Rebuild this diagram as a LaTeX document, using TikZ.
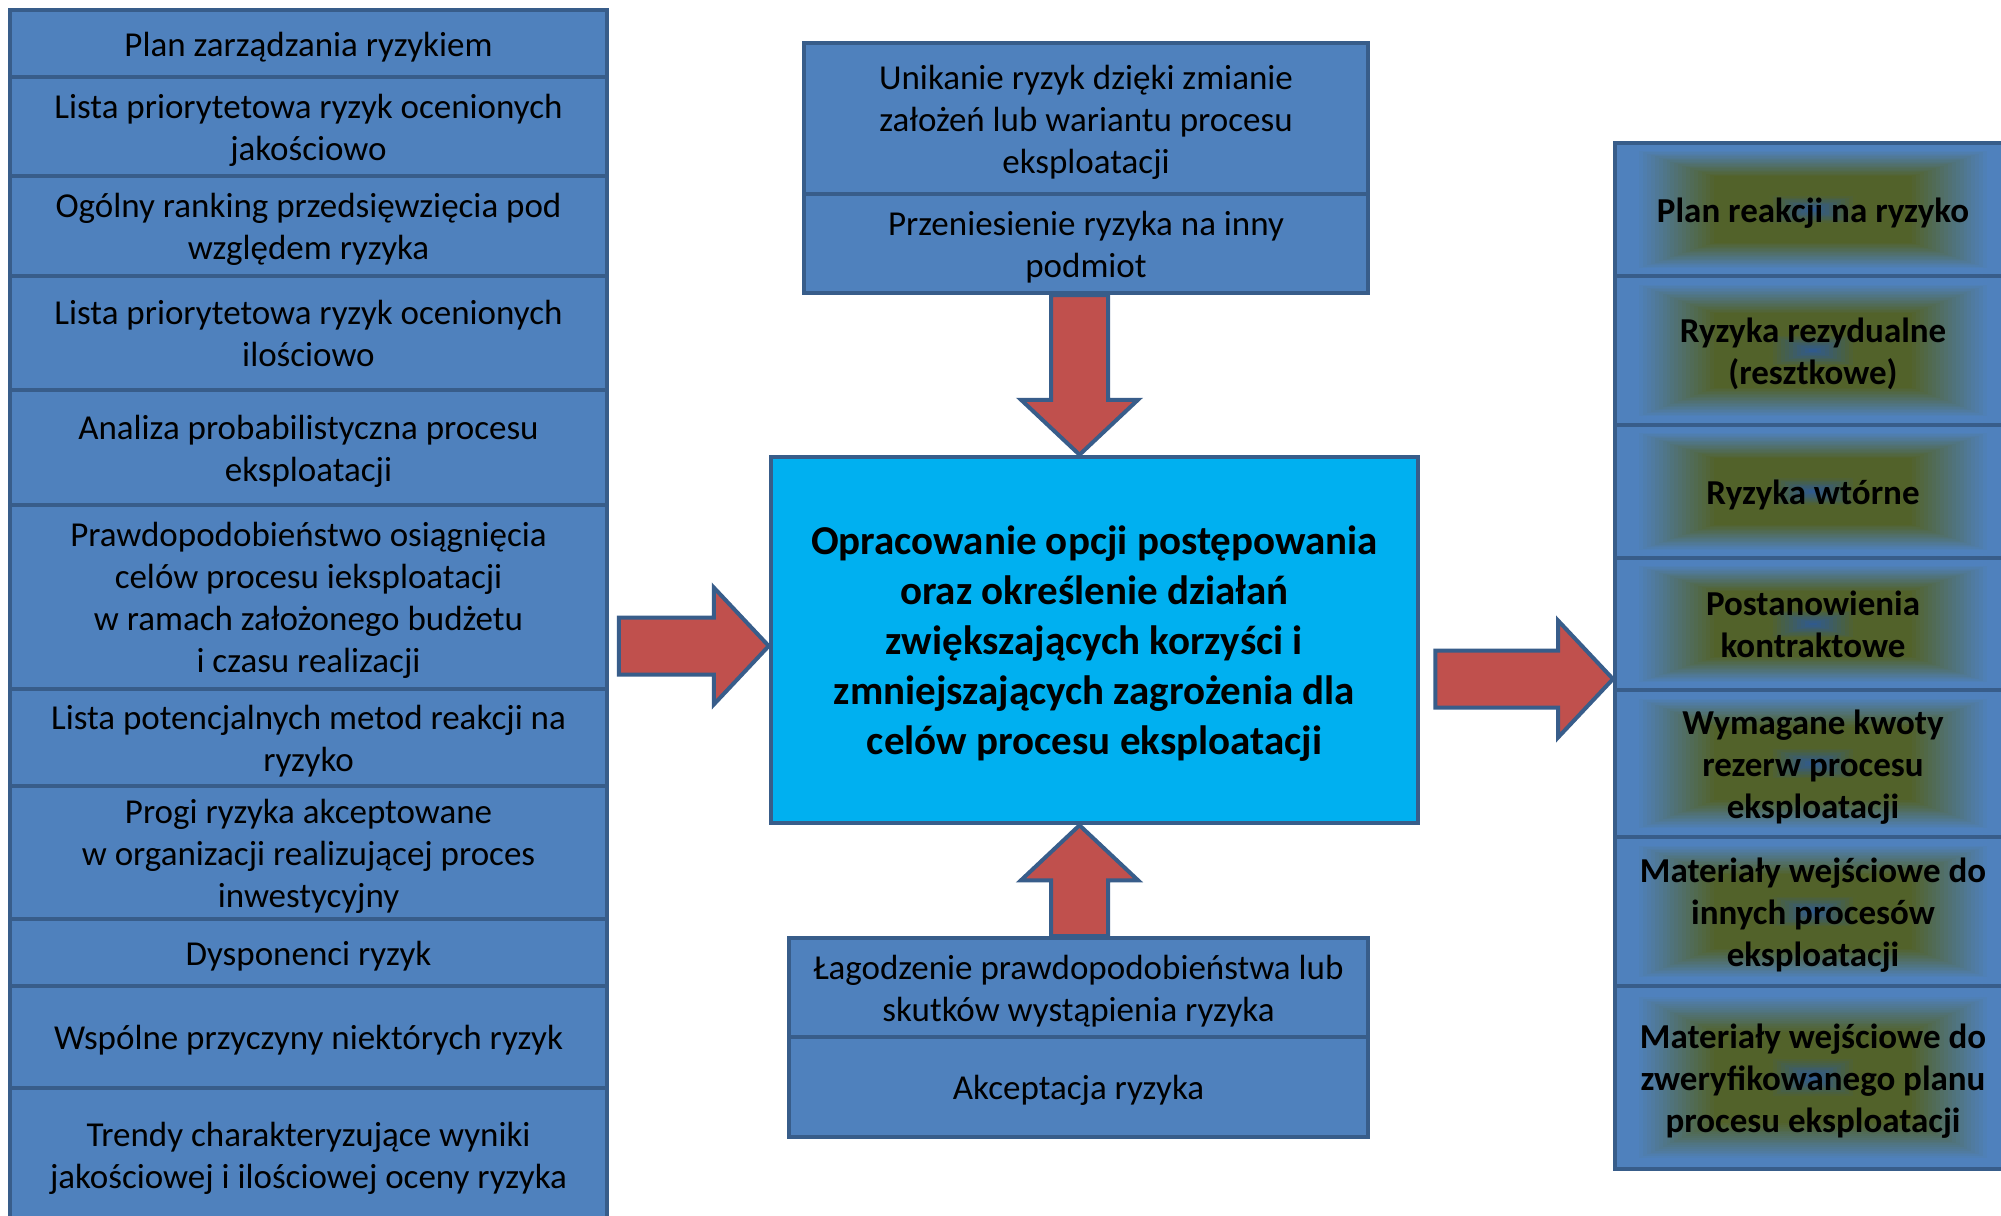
\documentclass[tikz,border=0pt]{standalone}
\usepackage{fontspec}
\setmainfont{Carlito}
\usetikzlibrary{calc}

\definecolor{boxc}{HTML}{4F81BD}
\definecolor{bordc}{HTML}{385D8A}
\definecolor{corec}{HTML}{00B0F0}
\definecolor{arrc}{HTML}{C0504D}
\definecolor{steelc}{HTML}{4F81BD}
\definecolor{olivec}{HTML}{52622A}
\definecolor{darkc}{HTML}{305A8C}

% centred multi-line label; the first-row strut sets the vertical balance
\newcommand\tx[2][38pt]{\begin{tabular}{@{}c@{}}\rule{0pt}{#1}#2\end{tabular}}

\tikzset{
  lbox/.style={draw=bordc, line width=4pt, fill=boxc, inner sep=0pt,
    text=black, font=\fontsize{35}{42}\selectfont},
  corebox/.style={draw=bordc, line width=4.5pt, fill=corec, inner sep=0pt,
    text=black, font=\fontsize{41}{50}\selectfont\bfseries},
  gbox/.style={draw=bordc, line width=4pt, inner sep=0pt, minimum width=396pt,
    text=black, font=\fontsize{35}{42}\selectfont\bfseries,
    path picture={
      \foreach \gi in {0,...,50}{
        \pgfmathsetmacro\gt{1-\gi/50}
        \pgfmathtruncatemacro\gpa{max(0,min(100,(\gt-0.5)/0.4*100))}
        \pgfmathtruncatemacro\gpb{max(0,min(100,(\gt-0.02)/0.2*100))}
        \colorlet{gmix}{olivec!\gpb!darkc}
        \colorlet{gcur}{steelc!\gpa!gmix}
        \fill[gcur]
          ($(path picture bounding box.center)!\gt!(path picture bounding box.south west)$)
          rectangle
          ($(path picture bounding box.center)!\gt!(path picture bounding box.north east)$);
      }
    }},
  harrow/.style={draw=bordc, line width=4pt, fill=arrc, line join=miter},
}

% block arrow from #1 (tail) to #2 (tip)
\newcommand\blockarrow[2]{%
  \path coordinate (bas) at #1;
  \path coordinate (bat) at #2;
  \path coordinate (bab) at ($(bat)!55pt!(bas)$);
  \draw[harrow] ($(bas)!28.5pt!90:(bat)$) -- ($(bab)!28.5pt!90:(bat)$)
    -- ($(bab)!58.5pt!90:(bat)$) -- (bat) -- ($(bab)!58.5pt!-90:(bat)$)
    -- ($(bab)!28.5pt!-90:(bat)$) -- ($(bas)!28.5pt!-90:(bat)$) -- cycle;}

\begin{document}
\begin{tikzpicture}[x=1pt, y=-1pt]
\useasboundingbox (0,0) rectangle (2001,1215);
\clip (0,0) rectangle (2001,1215);
\fill[white] (0,0) rectangle (2001,1215);

% inputs
\begin{scope}[every node/.append style={lbox, minimum width=597pt}]
\node[minimum height=67pt]  (in1)  at (308.5,43.5)  {\tx{Plan zarządzania ryzykiem}};
\node[minimum height=99pt]  (in2)  at (308.5,126.5) {\tx{Lista priorytetowa ryzyk ocenionych\\jakościowo}};
\node[minimum height=100pt] (in3)  at (308.5,226)   {\tx{Ogólny ranking przedsięwzięcia pod\\względem ryzyka}};
\node[minimum height=114pt] (in4)  at (308.5,333)   {\tx{Lista priorytetowa ryzyk ocenionych\\ilościowo}};
\node[minimum height=115pt] (in5)  at (308.5,447.5) {\tx{Analiza probabilistyczna procesu\\eksploatacji}};
\node[minimum height=184pt] (in6)  at (308.5,597)   {\tx{Prawdopodobieństwo osiągnięcia\\celów procesu ieksploatacji\\w ramach założonego budżetu\\i czasu realizacji}};
\node[minimum height=98pt]  (in7)  at (308.5,738)   {\tx{Lista potencjalnych metod reakcji na\\ryzyko}};
\node[minimum height=132pt] (in8)  at (308.5,853)   {\tx{Progi ryzyka akceptowane\\w organizacji realizującej proces\\inwestycyjny}};
\node[minimum height=67pt]  (in9)  at (308.5,952.5) {\tx{Dysponenci ryzyk}};
\node[minimum height=102pt] (in10) at (308.5,1037)  {\tx{Wspólne przyczyny niektórych ryzyk}};
\node[minimum height=134pt] (in11) at (308.5,1155)  {\tx{Trendy charakteryzujące wyniki\\jakościowej i ilościowej oceny ryzyka}};
\end{scope}

% upper options
\begin{scope}[every node/.append style={lbox, minimum width=564pt}]
\node[minimum height=151pt] (u1) at (1086,118.5) {\tx{Unikanie ryzyk dzięki zmianie\\założeń lub wariantu procesu\\eksploatacji}};
\node[minimum height=99pt]  (u2) at (1086,243.5) {\tx{Przeniesienie ryzyka na inny\\podmiot}};
\end{scope}

% lower options
\begin{scope}[every node/.append style={lbox, minimum width=579pt}]
\node[minimum height=99pt]  (l1) at (1078.5,987.5) {\tx{Łagodzenie prawdopodobieństwa lub\\skutków wystąpienia ryzyka}};
\node[minimum height=100pt] (l2) at (1078.5,1087)  {\tx{Akceptacja ryzyka}};
\end{scope}

% central process
\node[corebox, minimum width=647pt, minimum height=366pt] (ctr) at (1094.5,640)
  {\tx[44pt]{Opracowanie opcji postępowania\\oraz określenie działań\\zwiększających korzyści i\\zmniejszających zagrożenia dla\\celów procesu eksploatacji}};

% outputs
\node[gbox, minimum height=133pt] (o1) at (1813,209.5)  {\tx{Plan reakcji na ryzyko}};
\node[gbox, minimum height=149pt] (o2) at (1813,350.5)  {\tx{Ryzyka rezydualne\\(resztkowe)}};
\node[gbox, minimum height=133pt] (o3) at (1813,491.5)  {\tx{Ryzyka wtórne}};
\node[gbox, minimum height=132pt] (o4) at (1813,624)    {\tx{Postanowienia\\kontraktowe}};
\node[gbox, minimum height=147pt] (o5) at (1813,763.5)  {\tx{Wymagane kwoty\\rezerw procesu\\eksploatacji}};
\node[gbox, minimum height=149pt] (o6) at (1813,911.5)  {\tx{Materiały wejściowe do\\innych procesów\\eksploatacji}};
\node[gbox, minimum height=183pt] (o7) at (1813,1077.5) {\tx{Materiały wejściowe do\\zweryfikowanego planu\\procesu eksploatacji}};

% flow arrows
\blockarrow{($(u2.south)+(-6.5,0)$)}{(bas |- ctr.north)}
\blockarrow{($(l1.north)+(1,0)$)}{(bas |- ctr.south)}
\blockarrow{($(ctr.west)+(-150,6)$)}{($(ctr.west)+(0,6)$)}
\blockarrow{($(ctr.east)+(15,39)$)}{(bas -| o4.west)}
\end{tikzpicture}
\end{document}
